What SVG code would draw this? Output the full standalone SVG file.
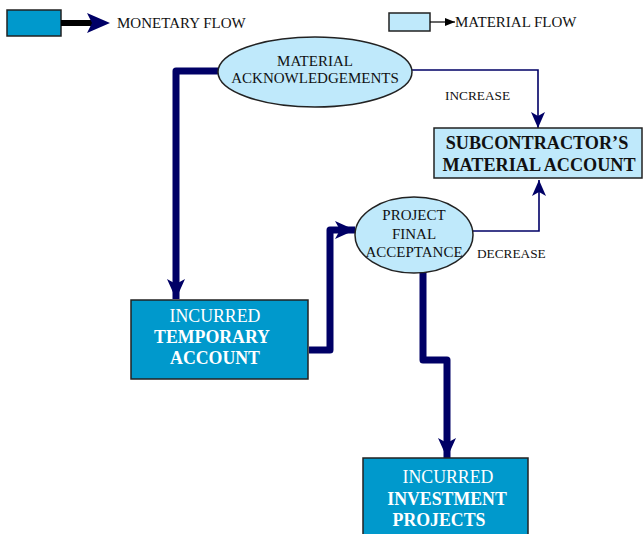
<svg xmlns="http://www.w3.org/2000/svg" width="644" height="534" viewBox="0 0 644 534">
<style>
  text { font-family: "Liberation Serif", "Times New Roman", serif; }
  .lbl { font-size: 13.3px; fill: #111; }
  .leg { font-size: 15px; fill: #111; }
  .node-t { font-size: 15px; fill: #111; text-anchor: middle; }
  .dark { fill: #0099cc; stroke: #222; stroke-width: 1.5; }
  .light { fill: #bfe9fb; stroke: #222; stroke-width: 1.5; }
  .thick { fill: none; stroke: #000066; stroke-width: 7; stroke-linejoin: round; }
  .thin { fill: none; stroke: #000066; stroke-width: 1.6; }
  .wt { fill: #fff; font-size: 17.8px; text-anchor: middle; }
  .bt { fill: #111; font-size: 18.2px; font-weight: bold; text-anchor: middle; }
</style>
<defs>
  <marker id="bigArrow" markerUnits="userSpaceOnUse" markerWidth="20" markerHeight="20" viewBox="0 0 20 20" refX="20" refY="10" orient="auto">
    <path d="M0,1 L20,10 L0,19 L5,10 Z" fill="#000066"/>
  </marker>
  <marker id="smallArrow" markerUnits="userSpaceOnUse" markerWidth="16" markerHeight="16" viewBox="0 0 16 16" refX="16" refY="8" orient="auto">
    <path d="M0,1 L16,8 L0,15 L4,8 Z" fill="#000066"/>
  </marker>
  <marker id="legArrow" markerUnits="userSpaceOnUse" markerWidth="10" markerHeight="10" viewBox="0 0 10 10" refX="10" refY="5" orient="auto">
    <path d="M0,1 L10,5 L0,9 Z" fill="#000"/>
  </marker>
</defs>

<g id="legend">
  <rect x="7" y="10" width="54" height="26" class="dark"/>
  <line x1="61" y1="23" x2="92" y2="23" stroke="#000" stroke-width="6"/>
  <path d="M87,13 L110,23 L87,33 L92,23 Z" fill="#000066"/>
  <text x="117" y="28" class="leg">MONETARY FLOW</text>
  <rect x="389" y="13" width="41" height="18" class="light"/>
  <line x1="430" y1="22" x2="455" y2="22" stroke="#000" stroke-width="1.2" marker-end="url(#legArrow)"/>
  <text x="455" y="27" class="leg">MATERIAL FLOW</text>
</g>

<g id="connectors">
  <path d="M218,71 H176 V299" class="thick" marker-end="url(#bigArrow)"/>
  <path d="M309,350 H330 V230 H355" class="thick" marker-end="url(#bigArrow)"/>
  <path d="M423,272 V360 H447 V458" class="thick" marker-end="url(#bigArrow)"/>
  <path d="M412,70 H538 V128" class="thin" marker-end="url(#smallArrow)"/>
  <path d="M473,231 H539 V180" class="thin" marker-end="url(#smallArrow)"/>
  <text x="445" y="100" class="lbl">INCREASE</text>
  <text x="477" y="258" class="lbl">DECREASE</text>
</g>

<g id="material-ack">
  <ellipse cx="315" cy="72" rx="97" ry="35" class="light"/>
  <text x="315" y="66" class="node-t">MATERIAL</text>
  <text x="315" y="83" class="node-t">ACKNOWLEDGEMENTS</text>
</g>

<g id="subcontractor">
  <rect x="434" y="128" width="208" height="50" class="light"/>
  <text x="537" y="149" class="bt">SUBCONTRACTOR’S</text>
  <text x="539" y="171" class="bt">MATERIAL ACCOUNT</text>
</g>

<g id="project-final">
  <ellipse cx="414" cy="235" rx="59" ry="38" class="light"/>
  <text x="414" y="220" class="node-t">PROJECT</text>
  <text x="414" y="239" class="node-t">FINAL</text>
  <text x="414" y="257" class="node-t">ACCEPTANCE</text>
</g>

<g id="temporary">
  <rect x="131" y="300" width="177" height="79" class="dark"/>
  <text x="215" y="322" class="wt">INCURRED</text>
  <text x="212" y="343" class="wt" font-weight="bold">TEMPORARY</text>
  <text x="215" y="364" class="wt" font-weight="bold">ACCOUNT</text>
</g>

<g id="investment">
  <rect x="363" y="458" width="165" height="80" class="dark"/>
  <text x="448" y="483" class="wt">INCURRED</text>
  <text x="447" y="505" class="wt" font-weight="bold">INVESTMENT</text>
  <text x="439" y="526" class="wt" font-weight="bold">PROJECTS</text>
</g>
</svg>
